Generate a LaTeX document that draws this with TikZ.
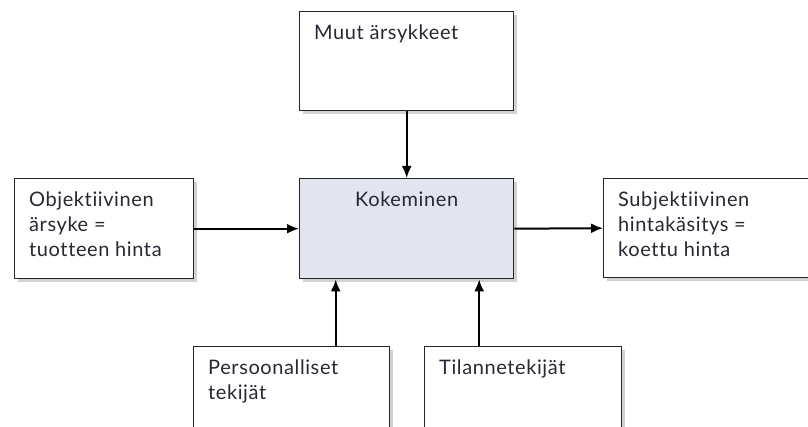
\documentclass[tikz,border=0pt]{standalone}
\usepackage{fontspec}
\setmainfont{Lato}[Ligatures=NoCommon, LetterSpace=3]
\usepackage{tikz}
\usetikzlibrary{arrows.meta, shadows}

\definecolor{kokefill}{RGB}{226,228,238}
\definecolor{txtgray}{RGB}{40,40,52}

\tikzset{
  box/.style={draw=black!85, line width=1.4pt, fill=white, anchor=north west,
    drop shadow={shadow xshift=3pt, shadow yshift=-3pt, fill=black!35}},
  boxtext/.style={anchor=north west, align=left, inner xsep=15pt, inner ysep=14pt,
    text=txtgray, font=\fontsize{20}{25}\selectfont}
}

\begin{document}
\begin{tikzpicture}[x=1pt, y=-1pt, >={Latex[length=12pt, width=10pt]}]
		\useasboundingbox (0,0) rectangle (808,427);

		\node[box, minimum width=214pt, minimum height=99pt,
		  label={[boxtext]north west:Muut ärsykkeet}] (muut) at (299,11) {};
		\node[box, fill=kokefill, minimum width=214pt, minimum height=100pt,
		  label={[boxtext, anchor=north, inner xsep=0pt]north:Kokeminen}] (koke) at (299,178) {};
		\node[box, minimum width=179pt, minimum height=100pt,
		  label={[boxtext]north west:Objektiivinen\\ärsyke =\\tuotteen hinta}] (obj) at (14,178) {};
		\node[box, minimum width=230pt, minimum height=99pt,
		  label={[boxtext]north west:Subjektiivinen\\hintakäsitys =\\koettu hinta}] (subj) at (603,178) {};
		\node[box, minimum width=196pt, minimum height=110pt,
		  label={[boxtext]north west:Persoonalliset\\tekijät}] (pers) at (193,346) {};
		\node[box, minimum width=197pt, minimum height=110pt,
		  label={[boxtext]north west:Tilannetekijät}] (tila) at (424,346) {};

		\draw[->, line width=2pt] (muut.south) -- (koke.north);
		\draw[->, line width=2pt] (obj.east) -- (koke.west);
		\draw[->, line width=2pt] (koke.east) -- (subj.west);
		\draw[->, line width=2pt]
		([xshift=44pt]pers.north) -- ([xshift=44pt]pers.north |- koke.south);
		\draw[->, line width=2pt]
		([xshift=-44pt]tila.north) -- ([xshift=-44pt]tila.north |- koke.south);

	\end{tikzpicture}
\end{document}
